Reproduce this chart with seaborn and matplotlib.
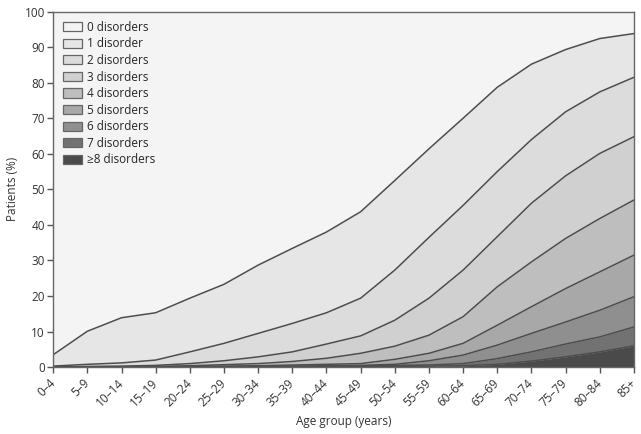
import numpy as np
import pandas as pd
import matplotlib
matplotlib.use("Agg")
import matplotlib.pyplot as plt
import seaborn as sns
from matplotlib.patches import Patch

# Age groups on the x axis
age_groups = ["0–4", "5–9", "10–14", "15–19", "20–24", "25–29", "30–34", "35–39",
              "40–44", "45–49", "50–54", "55–59", "60–64", "65–69", "70–74",
              "75–79", "80–84", "85+"]

# Cumulative share of patients (%) with at least k disorders
at_least_1 = [3.5, 10.1, 13.9, 15.3, 19.4, 23.3, 28.7, 33.4, 38.0, 43.7,
              52.5, 61.4, 70.0, 78.7, 85.2, 89.3, 92.4, 93.8]
at_least_2 = [0.3, 0.8, 1.2, 2.0, 4.3, 6.7, 9.5, 12.3, 15.3, 19.4,
              27.3, 36.5, 45.5, 55.0, 64.0, 71.8, 77.4, 81.5]
at_least_3 = [0.05, 0.2, 0.3, 0.5, 1.0, 1.8, 2.9, 4.3, 6.5, 8.8,
              13.2, 19.4, 27.3, 36.7, 46.1, 53.8, 60.1, 64.8]
at_least_4 = [0.0, 0.05, 0.1, 0.2, 0.4, 0.7, 1.0, 1.6, 2.5, 3.9,
              5.9, 9.0, 14.2, 22.6, 29.6, 36.2, 41.8, 47.0]
at_least_5 = [0.0, 0.0, 0.05, 0.1, 0.2, 0.3, 0.4, 0.6, 0.8, 1.0,
              2.2, 3.9, 6.7, 11.8, 17.0, 22.1, 26.8, 31.5]
at_least_6 = [0.0, 0.0, 0.0, 0.05, 0.1, 0.1, 0.2, 0.3, 0.4, 0.5,
              0.8, 1.8, 3.4, 6.2, 9.5, 12.7, 16.0, 19.8]
at_least_7 = [0.0, 0.0, 0.0, 0.0, 0.0, 0.05, 0.1, 0.1, 0.2, 0.3,
              0.5, 0.6, 1.0, 2.4, 4.3, 6.5, 8.5, 11.3]
at_least_8 = [0.0, 0.0, 0.0, 0.0, 0.0, 0.0, 0.0, 0.05, 0.1, 0.1,
              0.2, 0.3, 0.4, 0.8, 1.7, 2.9, 4.3, 6.0]

band_labels = ["0 disorders", "1 disorder", "2 disorders", "3 disorders", "4 disorders",
               "5 disorders", "6 disorders", "7 disorders", "≥8 disorders"]
band_colors = ["#f4f4f4", "#e6e6e6", "#dcdcdc", "#d0d0d0", "#bebebe",
               "#a8a8a8", "#8f8f8f", "#727272", "#4a4a4a"]

sns.set_style("white")
plt.rcParams["font.family"] = ["Open Sans", "DejaVu Sans"]
plt.rcParams["font.size"] = 8.5

fig = plt.figure(figsize=(6.41, 4.34), dpi=100)
ax = fig.add_axes([0.083, 0.154, 0.906, 0.8195])

x = np.arange(len(age_groups))
curves = [np.full(len(x), 100.0), at_least_1, at_least_2, at_least_3, at_least_4,
          at_least_5, at_least_6, at_least_7, at_least_8, np.zeros(len(x))]

# fill each band between successive cumulative curves
for i in range(len(band_labels)):
    ax.fill_between(x, curves[i + 1], curves[i], color=band_colors[i], linewidth=0)

# boundary lines through seaborn
long = pd.DataFrame({
    "age": np.tile(x, 8),
    "value": np.concatenate([at_least_1, at_least_2, at_least_3, at_least_4,
                             at_least_5, at_least_6, at_least_7, at_least_8]),
    "curve": np.repeat(np.arange(8), len(x)),
})
sns.lineplot(data=long, x="age", y="value", units="curve", estimator=None,
             color="#4d4d4d", linewidth=1.1, ax=ax, legend=False)

ax.set_xlim(0, len(x) - 1)
ax.set_ylim(0, 100)
ax.set_xticks(x)
ax.set_xticklabels(age_groups, rotation=45, ha="right", va="center",
                   rotation_mode="anchor")
ax.set_yticks(np.arange(0, 101, 10))
ax.tick_params(axis="both", direction="out", length=4, width=1, color="#555555",
               labelcolor="#333333", labelsize=8.5, pad=2)
ax.tick_params(axis="x", pad=6)
ax.tick_params(left=True, bottom=True)
for s in ax.spines.values():
    s.set_color("#666666")
    s.set_linewidth(1)

ax.set_xlabel("Age group (years)", color="#333333", fontsize=8.5, labelpad=4)
ax.set_ylabel("Patients (%)", color="#333333", fontsize=8.5, labelpad=4)

handles = [Patch(facecolor=c, edgecolor="#666666", linewidth=0.9) for c in band_colors]
ax.legend(handles, band_labels, loc="upper left", frameon=False, fontsize=8.5,
          handlelength=1.6, handleheight=0.8, labelspacing=0.3, handletextpad=0.5,
          borderaxespad=0.4, bbox_to_anchor=(0.0, 1.0))

fig.savefig("out.png", dpi=100)
